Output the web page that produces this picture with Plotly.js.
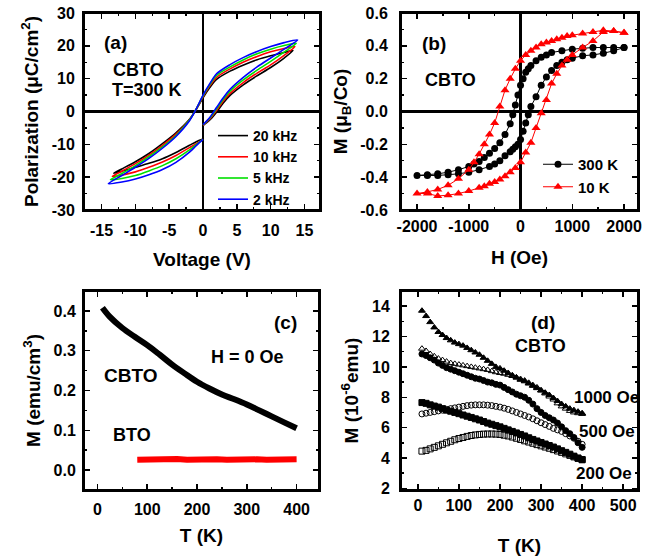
<!DOCTYPE html>
<html><head><meta charset="utf-8">
<script src="https://cdn.plot.ly/plotly-3.0.1.min.js"></script>
<style>html,body{margin:0;padding:0;background:#fff}#c{width:645px;height:557px}</style>
</head><body><div id="c"></div>
<script>
// ---------- Panel (a): P-E loops ----------
const vBlack = [0,1,2,3,4,6,8,10,12,13.3, 12,10,8,6,4,2,1,0,-1,-2,-4,-6,-8,-10,-12,-13.2, -12,-10,-8,-6,-4,-2,-1,0];
const pBlack = [-4.3,-2.6,-0.2,2.6,4.9,8.2,10.9,13.4,16.3,18.6, 18.0,17.0,15.8,14.2,12.3,9.8,7.3,4.2,0.6,-2.4,-6.5,-9.8,-12.8,-15.3,-17.5,-18.8, -18.2,-17.0,-15.8,-14.4,-12.5,-10.3,-9.2,-8.4];
const vRed = [0,1,2,3,4,6,8,10,12,13.6, 12,10,8,6,4,2,1,0,-1,-2,-4,-6,-8,-10,-12,-13.4, -12,-10,-8,-6,-4,-2,-1,0];
const pRed = [-4.2,-2.3,0.3,3.2,5.5,8.9,11.7,14.2,17.1,19.8, 19.2,18.2,16.8,15.1,13.0,10.4,7.8,4.5,0.7,-2.5,-6.9,-10.3,-13.3,-15.9,-18.2,-19.8, -19.4,-18.4,-17.0,-15.4,-13.4,-11.0,-9.8,-8.5];
const vGreen = [0,1,2,3,4,6,8,10,12,13.8, 12,10,8,6,4,2,1,0,-1,-2,-4,-6,-8,-10,-12,-13.7, -12,-10,-8,-6,-4,-2,-1,0];
const pGreen = [-4.1,-2.0,0.8,3.7,6.2,9.7,12.6,15.3,18.1,20.8, 20.1,19.0,17.6,15.8,13.6,11.0,8.2,4.8,0.8,-2.6,-7.3,-10.8,-13.8,-16.5,-18.9,-20.8, -20.4,-19.5,-18.1,-16.5,-14.4,-11.7,-10.1,-8.5];
const vBlue = [0,1,2,3,4,6,8,10,12,14, 12,10,8,6,4,2,1,0,-1,-2,-4,-6,-8,-10,-12,-14, -12,-10,-8,-6,-4,-2,-1,0];
const pBlue = [-4.0,-1.8,1.2,4.2,6.8,10.5,13.6,16.3,19.0,21.8, 21.0,19.8,18.3,16.5,14.3,11.5,8.5,5.0,0.8,-2.8,-7.6,-11.2,-14.3,-17.0,-19.5,-22.0, -21.5,-20.6,-19.3,-17.7,-15.5,-12.4,-10.4,-8.5];
const freqLabels = ['20 kHz','10 kHz','5 kHz','2 kHz'];

// ---------- Panel (b): M-H loops ----------
const h300 = [2000,1800,1600,1400,1200,1000,800,600,500,400,300,200,150,100,50,0,-50,-100,-150,-200,-300,-400,-500,-600,-700,-800,-900,-1000,-1200,-1400,-1600,-1800,-2000,
  -1800,-1600,-1400,-1200,-1000,-800,-600,-500,-400,-300,-200,-150,-100,-50,0,50,100,150,200,300,400,500,600,700,800,900,1000,1200,1400,1600,1800,2000];
const m300 = [0.39,0.39,0.39,0.39,0.385,0.38,0.37,0.36,0.345,0.33,0.31,0.28,0.26,0.24,0.2,0.16,0.1,0.04,-0.02,-0.075,-0.14,-0.19,-0.225,-0.255,-0.28,-0.305,-0.32,-0.335,-0.355,-0.37,-0.38,-0.385,-0.39,
  -0.39,-0.39,-0.385,-0.38,-0.37,-0.355,-0.335,-0.32,-0.3,-0.27,-0.245,-0.23,-0.215,-0.2,-0.17,-0.12,-0.07,-0.02,0.03,0.09,0.16,0.21,0.25,0.28,0.3,0.315,0.325,0.34,0.345,0.355,0.37,0.39];
const h10 = [2000,1800,1600,1400,1200,1000,900,800,700,600,500,400,300,200,100,0,-100,-200,-300,-400,-500,-600,-700,-800,-900,-1000,-1200,-1400,-1600,-1800,-2000,
  -1800,-1600,-1400,-1200,-1000,-800,-700,-600,-500,-400,-300,-200,-100,0,100,200,300,400,500,600,700,800,900,1000,1200,1400,1600,1800,2000];
const m10 = [0.48,0.49,0.495,0.485,0.475,0.465,0.46,0.45,0.44,0.43,0.42,0.41,0.39,0.37,0.345,0.31,0.26,0.2,0.13,0.03,-0.07,-0.14,-0.2,-0.26,-0.31,-0.355,-0.41,-0.45,-0.475,-0.49,-0.5,
  -0.5,-0.515,-0.51,-0.5,-0.485,-0.465,-0.455,-0.44,-0.43,-0.415,-0.395,-0.37,-0.345,-0.31,-0.25,-0.19,-0.1,-0.01,0.07,0.17,0.23,0.28,0.315,0.345,0.39,0.43,0.485,0.49,0.48];

// ---------- Panel (c): M(T) at H = 0 ----------
const tC = [10,25,50,75,100,125,150,175,200,225,250,275,300,325,350,375,400];
const mCBTO = [0.408,0.385,0.357,0.335,0.314,0.290,0.265,0.243,0.222,0.205,0.190,0.178,0.165,0.150,0.135,0.120,0.105];
const tB = [80,100,120,140,160,180,200,220,240,260,280,300,320,340,360,380,400];
const mBTO = [0.026,0.027,0.028,0.027,0.028,0.026,0.027,0.028,0.027,0.026,0.027,0.028,0.027,0.026,0.027,0.028,0.027];

// ---------- Panel (d): M(T) at several fields ----------
const tD = [10,20,30,40,50,60,70,80,90,100,110,120,130,140,150,160,170,180,190,200,210,220,230,240,250,260,270,280,290,300,310,320,330,340,350,360,370,380,390,400];
const m1000FC = [13.7,13.35,12.95,12.6,12.3,12.1,11.9,11.75,11.6,11.5,11.4,11.25,11.1,10.95,10.8,10.6,10.4,10.2,10.0,9.9,9.75,9.6,9.45,9.3,9.15,9.05,8.9,8.75,8.6,8.45,8.3,8.15,7.95,7.75,7.55,7.4,7.25,7.15,7.05,6.95];
const m1000ZFC = [11.2,11.05,10.85,10.7,10.55,10.45,10.35,10.25,10.2,10.15,10.1,10.05,10.0,9.95,9.9,9.85,9.8,9.72,9.65,9.6,9.55,9.48,9.4,9.3,9.2,9.1,8.95,8.8,8.65,8.45,8.25,8.05,7.85,7.6,7.4,7.25,7.1,7.0,6.95,6.9];
const m500FC = [10.85,10.75,10.6,10.45,10.25,10.1,9.95,9.85,9.75,9.65,9.55,9.45,9.35,9.25,9.2,9.1,9.0,8.95,8.85,8.8,8.65,8.5,8.35,8.2,8.1,8.0,7.8,7.55,7.25,7.0,6.8,6.65,6.5,6.3,6.05,5.8,5.6,5.35,5.0,4.7];
const m500ZFC = [6.9,6.95,7.0,7.05,7.1,7.15,7.2,7.25,7.3,7.35,7.4,7.45,7.48,7.5,7.5,7.5,7.48,7.45,7.4,7.35,7.28,7.2,7.1,7.0,6.9,6.8,6.7,6.58,6.45,6.32,6.2,6.08,5.95,5.85,5.75,5.6,5.45,5.3,5.1,4.9];
const m200FC = [7.65,7.6,7.5,7.42,7.35,7.25,7.15,7.08,7.0,6.92,6.83,6.75,6.67,6.58,6.5,6.4,6.3,6.22,6.13,6.05,5.95,5.85,5.75,5.65,5.55,5.45,5.33,5.22,5.12,5.02,4.92,4.82,4.72,4.6,4.48,4.37,4.25,4.12,4.0,3.9];
const m200ZFC = [4.45,4.5,4.6,4.7,4.8,4.9,5.0,5.1,5.2,5.28,5.35,5.42,5.48,5.52,5.55,5.57,5.58,5.58,5.57,5.55,5.5,5.45,5.38,5.3,5.22,5.13,5.05,4.97,4.88,4.8,4.72,4.64,4.55,4.46,4.37,4.27,4.17,4.07,3.97,3.88];

// ---------- tick labels ----------
const aXv = [-15,-10,-5,0,5,10,15], aXt = ['-15','-10','-5','0','5','10','15'];
const aYv = [-30,-20,-10,0,10,20,30], aYt = ['-30','-20','-10','0','10','20','30'];
const bXv = [-2000,-1000,0,1000,2000], bXt = ['-2000','-1000','0','1000','2000'];
const bYv = [-0.6,-0.4,-0.2,0,0.2,0.4,0.6], bYt = ['-0.6','-0.4','-0.2','0.0','0.2','0.4','0.6'];
const cXv = [0,100,200,300,400], cXt = ['0','100','200','300','400'];
const cYv = [0,0.1,0.2,0.3,0.4], cYt = ['0.0','0.1','0.2','0.3','0.4'];
const dXv = [0,100,200,300,400,500], dXt = ['0','100','200','300','400','500'];
const dYv = [2,4,6,8,10,12,14], dYt = ['2','4','6','8','10','12','14'];

const W = 645, H = 557;
const F = 'Liberation Sans, Arial, sans-serif';
const px = x => x / W, py = y => 1 - y / H;

// panel boxes in pixels [left, right, top, bottom]
const boxA = [84,320,13,210], boxB = [401,638,13,210], boxC = [84,319,291,490], boxD = [401,638,291,490];
const xd = b => [px(b[0]), px(b[1])], yd = b => [py(b[3]), py(b[2])];

const traces = [];
const aCols = ['#000000','#ff0000','#00e000','#0000ff'];
[[vBlack,pBlack],[vRed,pRed],[vGreen,pGreen],[vBlue,pBlue]].forEach((d,i)=>{
  traces.push({x:d[0], y:d[1], type:'scatter', mode:'lines', name:freqLabels[i], xaxis:'x', yaxis:'y',
    line:{color:aCols[i], width:1.6, shape:'spline', smoothing:0.8}, legend:'legend'});
});
traces.push({x:h300, y:m300, type:'scatter', mode:'lines+markers', name:'300 K', xaxis:'x2', yaxis:'y2',
  line:{color:'#000', width:1}, marker:{symbol:'circle', size:7, color:'#000'}, legend:'legend2'});
traces.push({x:h10, y:m10, type:'scatter', mode:'lines+markers', name:'10 K', xaxis:'x2', yaxis:'y2',
  line:{color:'#ff0000', width:1}, marker:{symbol:'triangle-up', size:8, color:'#ff0000'}, legend:'legend2'});
traces.push({x:tC, y:mCBTO, type:'scatter', mode:'lines', xaxis:'x3', yaxis:'y3', showlegend:false,
  line:{color:'#000', width:6, shape:'spline'}});
traces.push({x:tB, y:mBTO, type:'scatter', mode:'lines', xaxis:'x3', yaxis:'y3', showlegend:false,
  line:{color:'#ff0000', width:6}});
const dSeries = [
  [m1000FC,'triangle-up','#000'],[m1000ZFC,'triangle-up-open','#000'],
  [m500FC,'circle','#000'],[m500ZFC,'circle-open','#000'],
  [m200FC,'square','#000'],[m200ZFC,'square-open','#000']];
dSeries.forEach(s=>{
  traces.push({x:tD, y:s[0], type:'scatter', mode:'markers', xaxis:'x4', yaxis:'y4', showlegend:false,
    marker:{symbol:s[1], size:6, color:s[2], line:{color:'#000', width:1}}});
});

function axis(o){
  return Object.assign({
    showline:true, linewidth:2, linecolor:'#000', mirror:'allticks',
    ticks:'inside', ticklen:6, tickwidth:1.5, tickcolor:'#000',
    showgrid:false, zeroline:false, tickmode:'array', fixedrange:true,
    tickfont:{family:F, size:16, color:'#000', weight:'bold'},
  }, o);
}
function minor(d){ return {tickmode:'linear', tick0:0, dtick:d, ticks:'inside', ticklen:3, tickwidth:1.5, tickcolor:'#000', showgrid:false}; }
const titleFont = {family:F, size:19, color:'#000', weight:'bold'};

// frame boxes around each subplot (shapes) ...
const frames = ['', '2', '3', '4'].map(n=>({type:'rect', xref:'x'+n+' domain', yref:'y'+n+' domain',
  x0:0, x1:1, y0:0, y1:1, line:{color:'#000', width:2}, fillcolor:'rgba(0,0,0,0)', layer:'above'}));
// ... and, as a fallback, bordered empty annotation boxes of the same size
const boxFrames = [['',boxA],['2',boxB],['3',boxC],['4',boxD]].map(([n,b])=>({
  text:' ', xref:'x'+n+' domain', yref:'y'+n+' domain', x:0.5, y:0.5, xanchor:'center', yanchor:'middle',
  showarrow:false, width:(b[1]-b[0])-2, height:(b[3]-b[2])-2, borderwidth:2, borderpad:0,
  bordercolor:'#000', bgcolor:'rgba(0,0,0,0)', font:{size:1}}));

const labels = [
    {text:'(a)', x:px(115), y:py(42)}, {text:'CBTO', x:px(138), y:py(70), size:18}, {text:'T=300 K', x:px(147), y:py(90), size:18},
    {text:'(b)', x:px(434), y:py(43)}, {text:'CBTO', x:px(450), y:py(80), size:18},
    {text:'(c)', x:px(285), y:py(322)}, {text:'H = 0 Oe', x:px(247), y:py(357), size:18},
    {text:'CBTO', x:px(130), y:py(375)}, {text:'BTO', x:px(132), y:py(435), size:18},
    {text:'(d)', x:px(543), y:py(322)}, {text:'CBTO', x:px(540), y:py(346), size:18},
    {text:'1000 Oe', x:px(606), y:py(397), size:17}, {text:'500 Oe', x:px(607), y:py(432), size:17},
    {text:'200 Oe', x:px(604), y:py(473), size:17}
  ].map(a=>({text:a.text, x:a.x, y:a.y, xref:'paper', yref:'paper', showarrow:false, xanchor:'center', yanchor:'middle',
    font:{family:F, size:a.size||19, color:'#000', weight:'bold'}}));

const layout = {
  width:W, height:H, margin:{l:0,r:0,t:0,b:0}, paper_bgcolor:'#fff', plot_bgcolor:'#fff',
  font:{family:F, color:'#000'}, showlegend:true, shapes:frames,
  xaxis: axis({domain:xd(boxA), anchor:'y', range:[-17.6,17.3], tickvals:aXv, ticktext:aXt, minor:minor(2.5),
    zeroline:true, zerolinewidth:2.5, zerolinecolor:'#000', ticklabelstandoff:5,
    title:{text:'Voltage (V)', font:titleFont, standoff:14}}),
  yaxis: axis({domain:yd(boxA), anchor:'x', range:[-30.02,30.02], tickvals:aYv, ticktext:aYt, minor:minor(5),
    zeroline:true, zerolinewidth:2.5, zerolinecolor:'#000', ticklabelstandoff:4,
    title:{text:'Polarization (μC/cm<sup>2</sup>)', font:titleFont, standoff:8}}),
  xaxis2: axis({domain:xd(boxB), anchor:'y2', range:[-2310,2270], tickvals:bXv, ticktext:bXt, minor:minor(500),
    zeroline:true, zerolinewidth:2.5, zerolinecolor:'#000', ticklabelstandoff:1,
    title:{text:'H (Oe)', font:titleFont, standoff:16}}),
  yaxis2: axis({domain:yd(boxB), anchor:'x2', range:[-0.6004,0.6004], tickvals:bYv, ticktext:bYt, minor:minor(0.1),
    zeroline:true, zerolinewidth:2.5, zerolinecolor:'#000', ticklabelstandoff:8,
    title:{text:'M (μ<sub>B</sub>/Co)', font:titleFont, standoff:8}}),
  xaxis3: axis({domain:xd(boxC), anchor:'y3', range:[-27,445], tickvals:cXv, ticktext:cXt, minor:minor(50),
    ticklabelstandoff:4, title:{text:'T (K)', font:titleFont, standoff:11}}),
  yaxis3: axis({domain:yd(boxC), anchor:'x3', range:[-0.05,0.45], tickvals:cYv, ticktext:cYt, minor:minor(0.05),
    ticklabelstandoff:3, title:{text:'M (emu/cm<sup>3</sup>)', font:titleFont, standoff:8}}),
  xaxis4: axis({domain:xd(boxD), anchor:'y4', range:[-41,536], tickvals:dXv, ticktext:dXt, minor:minor(50),
    ticklabelstandoff:0, title:{text:'T (K)', font:titleFont, standoff:25}}),
  yaxis4: axis({domain:yd(boxD), anchor:'x4', range:[1.89,15], tickvals:dYv, ticktext:dYt, minor:minor(1),
    ticklabelstandoff:6, title:{text:'M (10<sup>-6</sup>emu)', font:titleFont, standoff:8}}),
  legend:{x:px(213), y:py(120), xanchor:'left', yanchor:'top', bgcolor:'rgba(0,0,0,0)', borderwidth:0,
    font:{family:F, size:14, color:'#000', weight:'bold'}, tracegroupgap:0},
  legend2:{x:px(538), y:py(148), xanchor:'left', yanchor:'top', bgcolor:'rgba(0,0,0,0)', borderwidth:0,
    font:{family:F, size:15, color:'#000', weight:'bold'}, tracegroupgap:0},
  annotations: boxFrames.concat(labels)
};

Plotly.newPlot('c', traces, layout, {displayModeBar:false, staticPlot:true});
</script></body></html>
